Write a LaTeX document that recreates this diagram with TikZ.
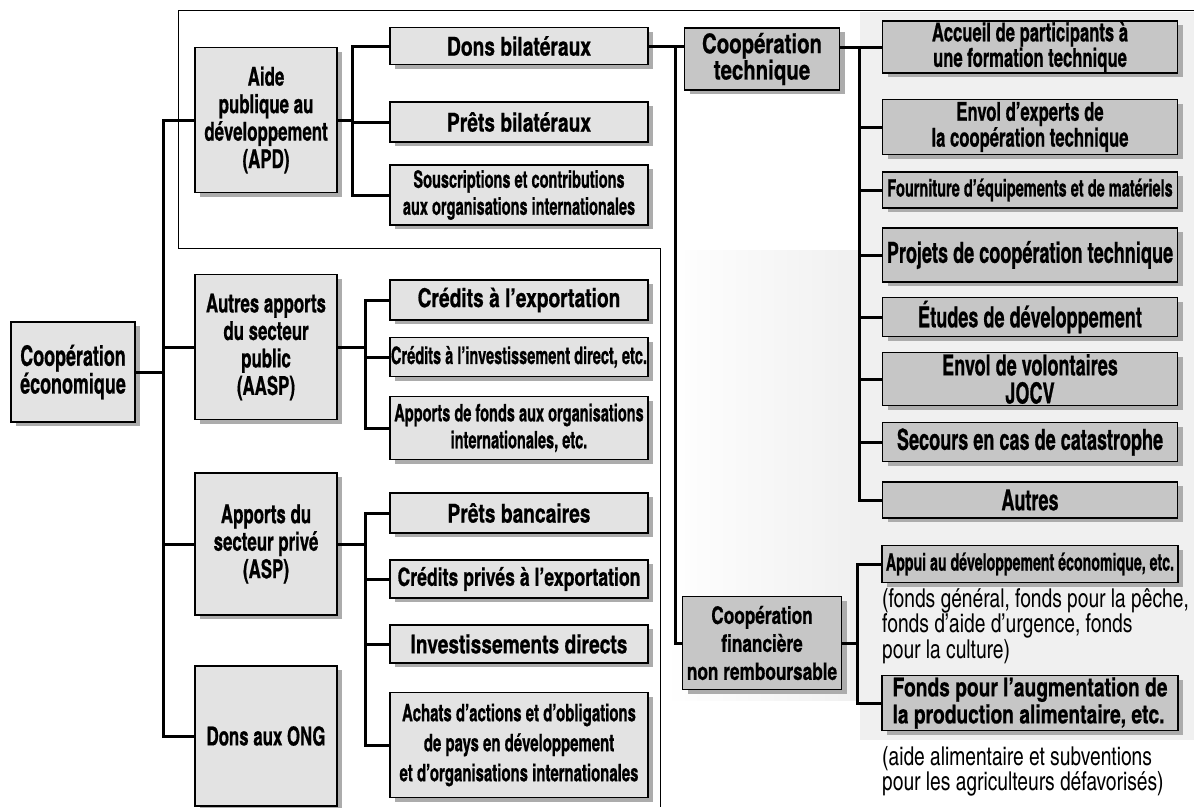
\documentclass[tikz,border=0pt]{standalone}
\usepackage{fontspec}
\setmainfont{TeX Gyre Heros Cn}

% condensed bold text: size, leading, stretch
\newcommand\cnbold[3]{\bfseries\fontsize{#1}{#2}\selectfont\addfontfeature{FakeStretch=#3, FakeBold=0.6}}

\tikzset{
  box/.style={draw, line width=1.3pt, fill=gray!22, align=center, inner sep=1pt,
    font=\cnbold{26}{26}{0.9},
    preaction={fill=gray!65, draw=none, transform canvas={xshift=5pt, yshift=-4pt}}},
  darkbox/.style={box, fill=gray!45},
  leveltext/.style={font=\cnbold{26}{27.5}{0.79}},
  smalltext/.style={font=\cnbold{24}{27}{0.74}},
  midtext/.style={font=\cnbold{25}{25}{0.86}},
  righttext/.style={font=\cnbold{29}{28}{0.76}},
  twolines/.style={font=\cnbold{26}{24}{0.78}},
  link/.style={line width=3pt},
  note/.style={anchor=north west, align=left, inner sep=0pt,
    font=\fontsize{26}{25.5}\selectfont\addfontfeature{FakeStretch=0.9}}
}

\begin{document}
\begin{tikzpicture}[x=1pt, y=-1pt]
    \useasboundingbox (0,0) rectangle (1194,807);

    %background:
    \shade[left color=white, right color=gray!12] (665,250) rectangle (860,700);
    \fill[gray!12] (860,12) rectangle (1194,740);

    %frame round the APD:
    \draw[line width=0.8pt] (178,248) -- (178,10) -- (1194,10);
    \draw[line width=0.8pt] (178,248) -- (660,248) -- (660,807);

    %first and second level:
    \node[box, font=\cnbold{28}{26}{0.78}, minimum width=124pt, minimum height=100pt] (eco) at (73,372) {Coopération\\économique};
    \node[box, leveltext, minimum width=142pt, minimum height=145pt] (apd) at (266,120) {Aide\\publique au\\développement\\(APD)};
    \node[box, leveltext, minimum width=142pt, minimum height=145pt] (aasp) at (266,347) {Autres apports\\du secteur\\public\\(AASP)};
    \node[box, leveltext, minimum width=142pt, minimum height=142pt] (asp) at (266,544) {Apports du\\secteur privé\\(ASP)};
    \node[box, leveltext, minimum width=142pt, minimum height=140pt] (ong) at (266,736) {Dons aux ONG};

    %third level:
    \node[box, minimum width=258pt, minimum height=37pt] (don) at (519,46) {Dons bilatéraux};
    \node[box, minimum width=258pt, minimum height=40pt] (pbi) at (519,122) {Prêts bilatéraux};
    \node[box, smalltext, minimum width=258pt, minimum height=60pt] (sou) at (519,195) {Souscriptions et contributions\\aux organisations internationales};
    \node[box, minimum width=258pt, minimum height=40pt] (cex) at (519,300) {Crédits à l’exportation};
    \node[box, smalltext, minimum width=258pt, minimum height=39pt] (cid) at (519,357) {Crédits à l’investissement direct, etc.};
    \node[box, smalltext, minimum width=258pt, minimum height=63pt] (afo) at (519,428) {Apports de fonds aux organisations\\internationales, etc.};
    \node[box, minimum width=258pt, minimum height=40pt] (pba) at (519,513) {Prêts bancaires};
    \node[box, midtext, minimum width=258pt, minimum height=38pt] (cpe) at (519,579) {Crédits privés à l’exportation};
    \node[box, minimum width=258pt, minimum height=38pt] (inv) at (519,644) {Investissements directs};
    \node[box, font=\cnbold{24}{30}{0.76}, minimum width=258pt, minimum height=105pt] (ach) at (519,745) {Achats d’actions et d’obligations\\de pays en développement\\et d’organisations internationales};

    %cooperation:
    \node[darkbox, font=\cnbold{27}{23}{0.92}, minimum width=155pt, minimum height=62pt] (tec) at (762,59) {Coopération\\technique};
    \node[darkbox, font=\cnbold{24}{28}{0.875}, minimum width=159pt, minimum height=93pt] (fin) at (762,643) {Coopération\\financière\\non remboursable};

    \node[darkbox, twolines, minimum width=295pt, minimum height=41pt] (acc) at (1030,47) {Accueil de participants à\\une formation technique};
    \node[darkbox, twolines, minimum width=295pt, minimum height=55pt] (exp) at (1030,127) {Envol d’experts de\\la coopération technique};
    \node[darkbox, smalltext, minimum width=295pt, minimum height=36pt] (fou) at (1030,190) {Fourniture d’équipements et de matériels};
    \node[darkbox, righttext, minimum width=295pt, minimum height=54pt] (pro) at (1030,255) {Projets de coopération technique};
    \node[darkbox, righttext, minimum width=295pt, minimum height=39pt] (etu) at (1030,317) {Études de développement};
    \node[darkbox, righttext, minimum width=295pt, minimum height=53pt] (vol) at (1030,379) {Envol de volontaires\\JOCV};
    \node[darkbox, righttext, minimum width=295pt, minimum height=39pt] (sec) at (1030,442) {Secours en cas de catastrophe};
    \node[darkbox, righttext, minimum width=295pt, minimum height=36pt] (aut) at (1030,500) {Autres};

    \node[darkbox, font=\cnbold{24}{24}{0.72}, minimum width=296pt, minimum height=37pt] (app) at (1030,564) {Appui au développement économique, etc.};
    \node[note] (fgn) at (882,588) {(fonds général, fonds pour la pêche,\\fonds d’aide d’urgence, fonds\\pour la culture)};
    \node[darkbox, font=\cnbold{26}{27}{0.9}, align=left, minimum width=296pt, minimum height=55pt] (fpa) at (1030,703) {Fonds pour l’augmentation de\\la production alimentaire, etc.};
    \node[note] (fal) at (882,746) {(aide alimentaire et subventions\\pour les agriculteurs défavorisés)};

    %branch points:
    \coordinate (trunk) at (163,0);
    \coordinate (brA) at (352,0);
    \coordinate (brB) at (365,0);
    \coordinate (brT) at (675,0);
    \coordinate (brC) at (859,0);
    \coordinate (brF) at (857,0);

    %draw connectors:
    \draw[link] (eco.east) -- (eco.east -| trunk);
    \draw[link] (apd.west) -- (apd.west -| trunk) -- (ong.west -| trunk) -- (ong.west);
    \foreach \n in {aasp,asp} \draw[link] (\n.west) -- (\n.west -| trunk);

    \draw[link] (apd.east) -- (apd.east -| brA);
    \draw[link] (don.west) -- (don.west -| brA) -- (sou.west -| brA) -- (sou.west);
    \draw[link] (pbi.west) -- (pbi.west -| brA);

    \draw[link] (aasp.east) -- (aasp.east -| brB);
    \draw[link] (cex.west) -- (cex.west -| brB) -- (afo.west -| brB) -- (afo.west);
    \draw[link] (cid.west) -- (cid.west -| brB);

    \draw[link] (asp.east) -- (asp.east -| brB);
    \draw[link] (pba.west) -- (pba.west -| brB) -- (ach.west -| brB) -- (ach.west);
    \foreach \n in {cpe,inv} \draw[link] (\n.west) -- (\n.west -| brB);

    \draw[link] (don.east) -- (don.east -| tec.west);
    \draw[link] (don.east -| brT) -- (fin.west -| brT) -- (fin.west);

    \draw[link] (tec.east |- acc.west) -- (acc.west);
    \draw[link] (acc.west -| brC) -- (aut.west -| brC) -- (aut.west);
    \foreach \n in {exp,fou,pro,etu,vol,sec} \draw[link] (\n.west) -- (\n.west -| brC);

    \draw[link] (fin.east) -- (fin.east -| brF);
    \draw[link] (app.west) -- (app.west -| brF) -- (fpa.west -| brF) -- (fpa.west);

\end{tikzpicture}
\end{document}
